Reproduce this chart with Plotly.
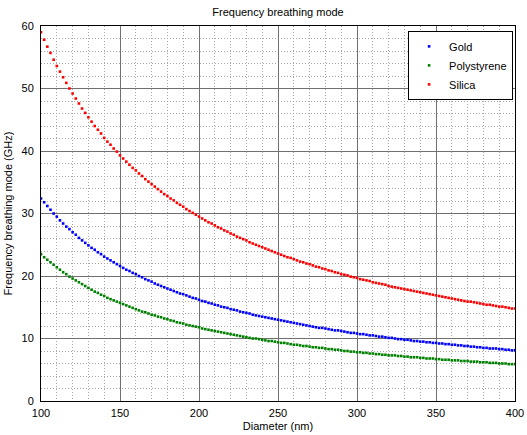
import plotly.graph_objects as go

diameter = list(range(100, 401, 2))

silica = [59.0, 57.8, 56.7, 55.7, 54.6, 53.6, 52.7, 51.8, 50.9, 50.0,
          49.2, 48.4, 47.6, 46.8, 46.1, 45.4, 44.7, 44.0, 43.4, 42.8,
          42.1, 41.5, 41.0, 40.4, 39.9, 39.3, 38.8, 38.3, 37.8, 37.3,
          36.9, 36.4, 36.0, 35.5, 35.1, 34.7, 34.3, 33.9, 33.5, 33.1,
          32.8, 32.4, 32.1, 31.7, 31.4, 31.1, 30.7, 30.4, 30.1, 29.8,
          29.5, 29.2, 28.9, 28.6, 28.4, 28.1, 27.8, 27.6, 27.3, 27.1,
          26.8, 26.6, 26.3, 26.1, 25.9, 25.7, 25.4, 25.2, 25.0, 24.8,
          24.6, 24.4, 24.2, 24.0, 23.8, 23.6, 23.4, 23.2, 23.0, 22.9,
          22.7, 22.5, 22.3, 22.2, 22.0, 21.9, 21.7, 21.5, 21.4, 21.2,
          21.1, 20.9, 20.8, 20.6, 20.5, 20.3, 20.2, 20.1, 19.9, 19.8,
          19.7, 19.5, 19.4, 19.3, 19.2, 19.0, 18.9, 18.8, 18.7, 18.6,
          18.4, 18.3, 18.2, 18.1, 18.0, 17.9, 17.8, 17.7, 17.6, 17.5,
          17.4, 17.3, 17.2, 17.1, 17.0, 16.9, 16.8, 16.7, 16.6, 16.5,
          16.4, 16.3, 16.2, 16.1, 16.0, 15.9, 15.9, 15.8, 15.7, 15.6,
          15.5, 15.4, 15.4, 15.3, 15.2, 15.1, 15.1, 15.0, 14.9, 14.8,
          14.8]

gold = [32.4, 31.8, 31.2, 30.6, 30.0, 29.5, 28.9, 28.4, 27.9, 27.5,
        27.0, 26.6, 26.1, 25.7, 25.3, 24.9, 24.5, 24.2, 23.8, 23.5,
        23.1, 22.8, 22.5, 22.2, 21.9, 21.6, 21.3, 21.0, 20.8, 20.5,
        20.3, 20.0, 19.8, 19.5, 19.3, 19.1, 18.8, 18.6, 18.4, 18.2,
        18.0, 17.8, 17.6, 17.4, 17.2, 17.1, 16.9, 16.7, 16.5, 16.4,
        16.2, 16.0, 15.9, 15.7, 15.6, 15.4, 15.3, 15.1, 15.0, 14.9,
        14.7, 14.6, 14.5, 14.3, 14.2, 14.1, 14.0, 13.8, 13.7, 13.6,
        13.5, 13.4, 13.3, 13.2, 13.1, 13.0, 12.9, 12.8, 12.7, 12.6,
        12.5, 12.4, 12.3, 12.2, 12.1, 12.0, 11.9, 11.8, 11.7, 11.7,
        11.6, 11.5, 11.4, 11.3, 11.3, 11.2, 11.1, 11.0, 10.9, 10.9,
        10.8, 10.7, 10.7, 10.6, 10.5, 10.5, 10.4, 10.3, 10.3, 10.2,
        10.1, 10.1, 10.0, 9.9, 9.9, 9.8, 9.8, 9.7, 9.6, 9.6,
        9.5, 9.5, 9.4, 9.4, 9.3, 9.3, 9.2, 9.2, 9.1, 9.1,
        9.0, 9.0, 8.9, 8.9, 8.8, 8.8, 8.7, 8.7, 8.6, 8.6,
        8.5, 8.5, 8.4, 8.4, 8.4, 8.3, 8.3, 8.2, 8.2, 8.1,
        8.1]

polystyrene = [23.5, 23.0, 22.6, 22.2, 21.8, 21.4, 21.0, 20.6, 20.3, 19.9,
               19.6, 19.3, 19.0, 18.7, 18.4, 18.1, 17.8, 17.5, 17.3, 17.0,
               16.8, 16.5, 16.3, 16.1, 15.9, 15.7, 15.5, 15.3, 15.1, 14.9,
               14.7, 14.5, 14.3, 14.2, 14.0, 13.8, 13.7, 13.5, 13.4, 13.2,
               13.1, 12.9, 12.8, 12.6, 12.5, 12.4, 12.2, 12.1, 12.0, 11.9,
               11.8, 11.6, 11.5, 11.4, 11.3, 11.2, 11.1, 11.0, 10.9, 10.8,
               10.7, 10.6, 10.5, 10.4, 10.3, 10.2, 10.1, 10.0, 10.0, 9.9,
               9.8, 9.7, 9.6, 9.6, 9.5, 9.4, 9.3, 9.3, 9.2, 9.1,
               9.0, 9.0, 8.9, 8.8, 8.8, 8.7, 8.6, 8.6, 8.5, 8.5,
               8.4, 8.3, 8.3, 8.2, 8.2, 8.1, 8.0, 8.0, 7.9, 7.9,
               7.8, 7.8, 7.7, 7.7, 7.6, 7.6, 7.5, 7.5, 7.4, 7.4,
               7.3, 7.3, 7.3, 7.2, 7.2, 7.1, 7.1, 7.0, 7.0, 7.0,
               6.9, 6.9, 6.8, 6.8, 6.8, 6.7, 6.7, 6.6, 6.6, 6.6,
               6.5, 6.5, 6.5, 6.4, 6.4, 6.4, 6.3, 6.3, 6.3, 6.2,
               6.2, 6.2, 6.1, 6.1, 6.1, 6.0, 6.0, 6.0, 5.9, 5.9,
               5.9]

series_names = ["Gold", "Polystyrene", "Silica"]
series_values = [gold, polystyrene, silica]
series_colors = ["#0000ff", "#008000", "#ff0000"]

x_ticks = [100, 150, 200, 250, 300, 350, 400]
y_ticks = [0, 10, 20, 30, 40, 50, 60]

FONT = "Liberation Sans, Arial, Helvetica, sans-serif"

fig = go.Figure()
for name, vals, col in zip(series_names, series_values, series_colors):
    fig.add_trace(go.Scatter(
        x=diameter, y=vals, name=name, mode="markers",
        marker=dict(symbol="square", size=2.6, color=col, line=dict(width=0)),
    ))

axis_common = dict(
    showline=True, linecolor="#000000", linewidth=1, mirror=True,
    ticks="", showgrid=True, gridcolor="#707070", gridwidth=1,
    zeroline=False, tickfont=dict(family=FONT, size=11, color="#000000"),
)

fig.update_xaxes(
    range=[100, 400], tickvals=x_ticks, ticktext=[str(v) for v in x_ticks],
    ticklabelstandoff=2,
    minor=dict(dtick=10, tick0=100, showgrid=True, gridcolor="#a8a8a8",
               griddash="1px,2px", gridwidth=1, ticks=""),
    title=dict(text="Diameter (nm)", font=dict(family=FONT, size=11, color="#000000"),
               standoff=4),
    **axis_common,
)
fig.update_yaxes(
    range=[0, 60], tickvals=y_ticks, ticktext=[str(v) for v in y_ticks],
    ticklabelstandoff=4,
    minor=dict(dtick=2, tick0=0, showgrid=True, gridcolor="#a8a8a8",
               griddash="1px,2px", gridwidth=1, ticks=""),
    title=dict(text="Frequency breathing mode (GHz)",
               font=dict(family=FONT, size=11, color="#000000"), standoff=6),
    **axis_common,
)

fig.update_layout(
    width=527, height=435,
    margin=dict(l=41, r=12, t=26, b=34, autoexpand=False),
    paper_bgcolor="#ffffff", plot_bgcolor="#ffffff",
    font=dict(family=FONT, size=11, color="#000000"),
    title=dict(text="Frequency breathing mode", x=0.5, xref="paper",
               xanchor="center", y=1 - 12 / 435, yanchor="middle",
               font=dict(family=FONT, size=11, color="#000000")),
    showlegend=True,
    legend=dict(x=0.996, y=0.987, xanchor="right", yanchor="top",
                bgcolor="#ffffff", bordercolor="#000000", borderwidth=1,
                font=dict(family=FONT, size=11, color="#000000"),
                tracegroupgap=0),
)

fig.write_html(
    "out.html",
    config={"displayModeBar": False},
    post_script="document.body.style.margin='0';document.body.style.padding='0';",
)
